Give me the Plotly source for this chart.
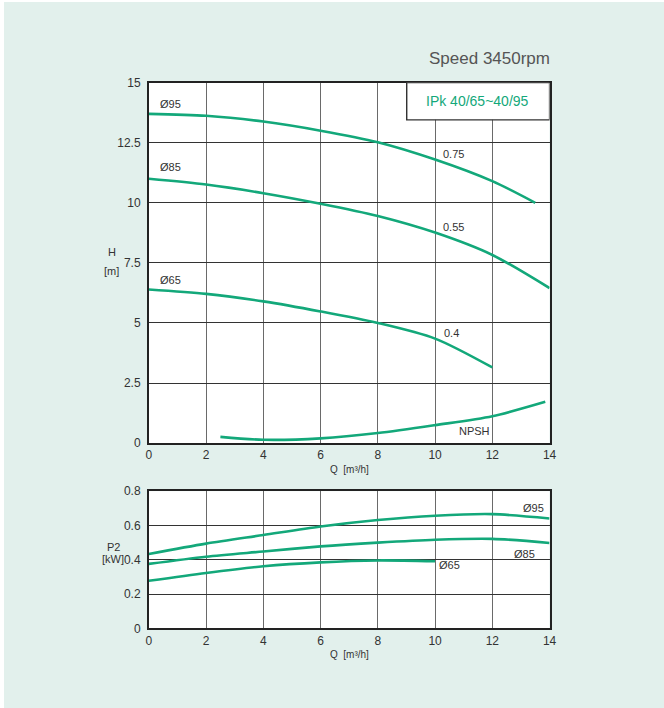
import plotly.graph_objects as go

# ---------- data ----------
q95_h = [0, 2, 4, 6, 8, 10, 12, 13.5]
h95 = [13.7, 13.62, 13.38, 13.0, 12.52, 11.8, 10.9, 10.0]
q85_h = [0, 2, 4, 6, 8, 10, 12, 14]
h85 = [11.0, 10.76, 10.4, 9.96, 9.45, 8.76, 7.83, 6.45]
q65_h = [0, 2, 4, 6, 8, 10, 12]
h65 = [6.39, 6.21, 5.9, 5.48, 5.0, 4.35, 3.15]
q_npsh = [2.5, 4, 6, 8, 10, 12, 13.85]
npsh = [0.26, 0.14, 0.2, 0.42, 0.75, 1.12, 1.72]

q95_p = [0, 2, 4, 6, 8, 10, 12, 14]
p95 = [0.434, 0.494, 0.544, 0.594, 0.632, 0.657, 0.666, 0.641]
q85_p = [0, 2, 4, 6, 8, 10, 12, 14]
p85 = [0.376, 0.418, 0.448, 0.478, 0.5, 0.517, 0.522, 0.498]
q65_p = [0, 2, 4, 6, 8, 10]
p65 = [0.277, 0.323, 0.362, 0.385, 0.396, 0.391]

x_ticks = [0, 2, 4, 6, 8, 10, 12, 14]
h_ticks = [0, 2.5, 5, 7.5, 10, 12.5, 15]
p_ticks = [0, 0.2, 0.4, 0.6, 0.8]

GREEN = "#13a87a"
BG = "#e2f0ec"
FONT = "Liberation Sans, Arial, sans-serif"
OFF = 8  # default page margin
W, H = 664 - 2 * OFF, 708 - 2 * OFF

fig = go.Figure()

def line(x, y, xa="x", ya="y"):
    fig.add_trace(go.Scatter(x=x, y=y, mode="lines", xaxis=xa, yaxis=ya,
                             line=dict(color=GREEN, width=2.6, shape="spline", smoothing=0.8),
                             showlegend=False, hoverinfo="skip"))

line(q95_h, h95)
line(q85_h, h85)
line(q65_h, h65)
line(q_npsh, npsh)
line(q95_p, p95, "x2", "y2")
line(q85_p, p85, "x2", "y2")
line(q65_p, p65, "x2", "y2")

def px_x(p):
    return (p - OFF) / W

def px_y(p):
    return 1 - (p - OFF) / H

axis_common = dict(showline=True, mirror=True, linecolor="#222", linewidth=1.6,
                   zeroline=False, ticks="", showgrid=True,
                   tickfont=dict(family=FONT, size=12, color="#333"),
                   fixedrange=True)

xd = [px_x(148), px_x(555)]
fig.update_layout(
    width=W, height=H,
    margin=dict(l=0, r=0, t=0, b=0),
    paper_bgcolor=BG, plot_bgcolor="white",
    font=dict(family=FONT, color="#333"),
    xaxis=dict(domain=xd, range=[0, 14], tickvals=x_ticks, anchor="y",
               gridcolor="#6a6a6a", gridwidth=1.3, **axis_common),
    yaxis=dict(domain=[px_y(445), px_y(77)], range=[0, 15], tickvals=h_ticks, anchor="x",
               gridcolor="#333", gridwidth=1.3, ticklabelstandoff=4, **axis_common),
    xaxis2=dict(domain=xd, range=[0, 14], tickvals=x_ticks, anchor="y2",
                gridcolor="#6a6a6a", gridwidth=1.3, **axis_common),
    yaxis2=dict(domain=[px_y(634), px_y(494)], range=[0, 0.8], tickvals=p_ticks, anchor="x2",
                gridcolor="#333", gridwidth=1.3, ticklabelstandoff=4, **axis_common),
)

# model box
fig.add_shape(type="rect", xref="x", yref="y", x0=9.01, x1=14, y0=13.45, y1=15,
              fillcolor="white", line=dict(color="#333", width=1.4), layer="above")

ann = []

def t(x, y, s, xref="x", yref="y", size=11, color="#333", xanchor="left", yanchor="middle"):
    ann.append(dict(x=x, y=y, xref=xref, yref=yref, text=s, showarrow=False,
                    font=dict(family=FONT, size=size, color=color),
                    xanchor=xanchor, yanchor=yanchor))

t(11.5, 14.23, "IPk 40/65~40/95", size=14, color=GREEN, xanchor="center")
t(px_x(557), px_y(52), "Speed 3450rpm", xref="paper", yref="paper", size=17, color="#555", xanchor="right")

t(0.33, 14.1, "Ø95")
t(0.33, 11.5, "Ø85")
t(0.33, 6.77, "Ø65")
t(10.2, 12.02, "0.75")
t(10.2, 9.0, "0.55")
t(10.25, 4.58, "0.4")
t(10.75, 0.5, "NPSH")

t(13.0, 0.70, "Ø95", "x2", "y2")
t(12.68, 0.435, "Ø85", "x2", "y2")
t(10.07, 0.367, "Ø65", "x2", "y2")

t(px_x(111), px_y(250), "H", "paper", "paper", xanchor="center")
t(px_x(110), px_y(269), "[m]", "paper", "paper", xanchor="center")
t(px_x(112), px_y(551), "P2", "paper", "paper", xanchor="center")
t(px_x(112), px_y(563), "[kW]", "paper", "paper", xanchor="center")
t(px_x(352), px_y(472), "Q  [m³/h]", "paper", "paper", size=10, xanchor="center")
t(px_x(352), px_y(661), "Q  [m³/h]", "paper", "paper", size=10, xanchor="center")

fig.update_layout(annotations=ann)

page_bg = ("document.documentElement.style.background="
           "'linear-gradient(to right, #fff 4px, transparent 4px), "
           "linear-gradient(to bottom, #fff 2px, " + BG + " 2px)';")

fig.write_html("out.html", config={"displayModeBar": False}, post_script=page_bg)
